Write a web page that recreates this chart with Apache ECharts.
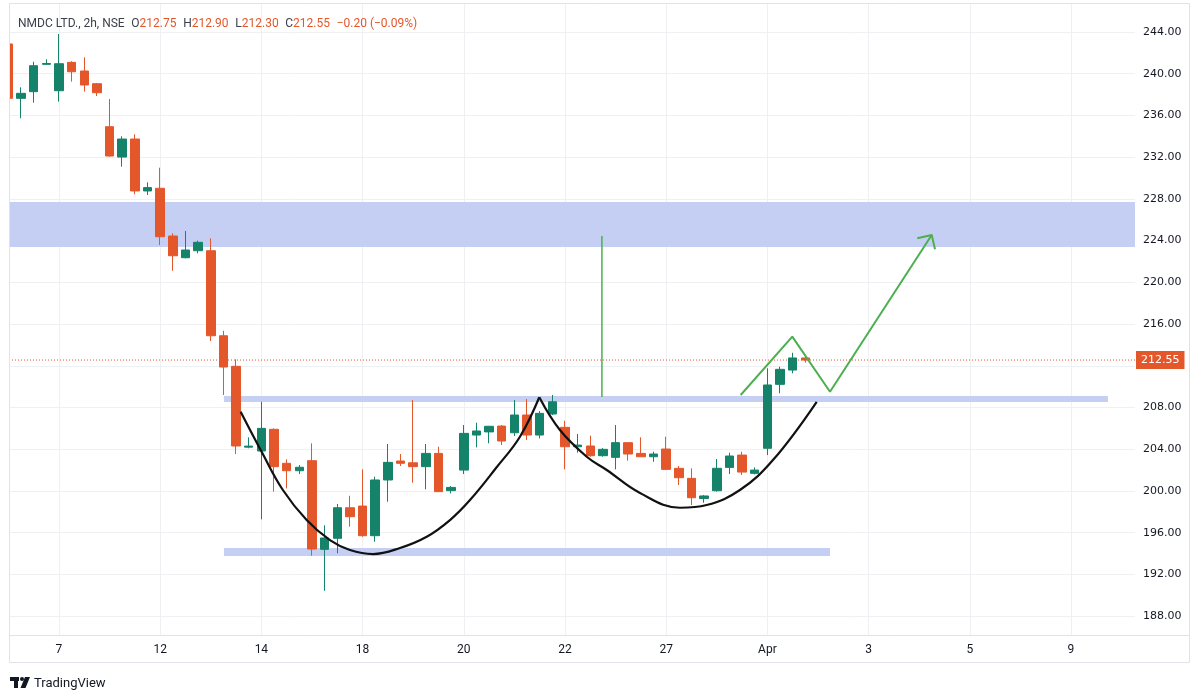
<!DOCTYPE html>
<html><head><meta charset="utf-8">
<script src="https://cdn.jsdelivr.net/npm/echarts@6/dist/echarts.min.js"></script>
<style>html,body{margin:0;padding:0;background:#fff}#c{width:1200px;height:700px}</style>
</head><body><div id="c"></div>
<script>
// ---- data (2h bars, bar index 0 = first bar of Mar 7) ----
const barIndex = [-4,-3,-2,-1,0,1,2,3,4,5,6,7,8,9,10,11,12,13,14,15,16,17,18,19,20,21,22,23,24,25,26,27,28,29,30,31,32,33,34,35,36,37,38,39,40,41,42,43,44,45,46,47,48,49,50,51,52,53,54,55,56,57,58,59];
const opens  = [242.85,237.64,238.28,240.90,238.37,241.09,240.26,239.04,234.92,232.01,233.74,228.76,229.02,224.44,222.36,223.03,223.03,214.88,211.95,204.20,203.83,205.91,202.65,201.94,202.90,194.40,195.46,198.39,198.55,195.71,201.05,202.87,202.70,202.33,203.60,200.03,202.00,205.36,205.66,206.22,205.58,207.28,205.36,207.38,206.10,204.24,204.31,203.38,203.22,204.63,203.60,203.28,204.02,202.17,201.21,199.27,200.02,202.26,203.44,201.69,204.09,210.22,211.59,212.75];
const closes = [237.64,238.12,240.77,240.98,240.96,240.19,238.92,238.18,232.11,233.74,228.76,229.08,224.37,222.55,223.10,223.84,214.88,211.88,204.31,204.30,206.00,202.33,201.94,202.27,194.43,195.49,198.39,197.53,195.71,201.05,202.74,202.65,202.33,203.60,199.93,200.34,205.52,205.75,206.20,204.79,207.28,205.36,207.44,208.55,204.24,204.40,203.38,203.99,204.63,203.54,203.28,203.54,202.07,201.27,199.35,199.52,202.17,203.35,201.81,202.00,210.16,211.66,212.75,212.55];
const lows   = [237.50,235.73,237.22,240.86,237.32,239.24,238.28,237.86,232.04,231.09,228.44,228.37,223.58,221.11,222.30,222.78,214.37,209.20,203.54,204.09,197.28,199.93,200.25,201.62,193.79,190.43,194.02,196.57,195.61,195.13,198.97,202.39,200.79,200.16,199.93,199.77,201.62,204.18,204.57,204.40,205.27,204.88,205.04,207.28,202.07,203.67,203.28,203.28,202.07,202.90,203.28,202.80,202.00,200.57,198.65,198.87,199.93,201.62,201.53,201.59,203.44,209.36,211.28,212.30];
const highs  = [243.00,238.70,241.15,241.38,243.81,241.20,241.57,239.10,237.58,234.00,234.19,229.59,230.99,224.70,224.92,224.00,224.22,215.36,212.62,205.14,208.55,206.00,203.03,202.48,204.56,196.70,198.75,199.54,202.07,201.37,204.50,203.54,208.72,204.50,204.24,200.47,206.32,206.54,206.22,206.32,208.72,208.81,207.66,209.20,206.73,205.46,205.30,204.11,206.32,204.63,205.14,203.76,205.20,202.39,202.17,199.61,203.06,203.67,203.76,202.26,211.76,211.91,213.25,212.90];

const timeTickIndex  = [0,8,16,24,32,40,48,56,64,72,80];
const timeTickLabels = ['7','12','14','18','20','22','27','Apr','3','5','9'];
const priceTicks = [188,192,196,200,204,208,212,216,220,224,228,232,236,240,244];

// drawings (bar index, price)
const zoneX0   = [-3.95, 13.04, 13.04];
const zoneX1   = [85.06, 82.92, 60.95];
const zoneLow  = [223.39, 208.52, 193.76];
const zoneHigh = [227.70, 209.10, 194.53];

const cupLeftX  = [14.36,16.02,17.70,19.58,21.42,23.00,24.82,26.96,29.07,30.91,32.49,34.55,36.44,37.97];
const cupLeftY  = [207.60,203.76,200.09,197.21,195.29,194.34,193.95,194.53,195.61,197.21,199.13,202.20,205.20,208.98];
const cupRightX = [37.97,39.60,41.72,43.30,45.93,49.09,51.20,53.83,56.44,59.90];
const cupRightY = [208.98,205.84,203.28,202.01,199.80,198.39,198.65,200.09,202.96,208.55];

const targetX = [42.92, 42.92];
const targetY = [209.00, 224.44];
const pathX = [53.89, 57.97, 60.95, 68.99];
const pathY = [209.20, 214.79, 209.51, 224.54];
const headX = [67.85, 68.99, 69.25];
const headY = [224.22, 224.54, 223.17];

// ---- styles ----
const UP = '#15836a', DOWN = '#e4572b', ZONE = '#c5cff3', DRAW = '#4caf50';
const X_MIN = -3.95, X_MAX = 85.06, Y_MIN = 186.19, Y_MAX = 246.78;

const candles = barIndex.map((x, k) => [x, opens[k], closes[k], lows[k], highs[k]]);
const zip = (xs, ys) => xs.map((x, k) => [x, ys[k]]);
const zones = zoneX0.map((x, k) => [x, zoneX1[k], zoneLow[k], zoneHigh[k]]);

const n = closes.length;
const lastO = opens[n-1], lastC = closes[n-1], lastH = highs[n-1], lastL = lows[n-1];
const chg = lastC - closes[n-2];
const pct = chg / closes[n-2] * 100;
const fmt = v => (v < 0 ? '\u2212' : '+') + Math.abs(v).toFixed(2);

const chart = echarts.init(document.getElementById('c'), null, {renderer: 'canvas'});
const lineSeries = (data, color, width, smooth, z) => ({
  type: 'line', data, showSymbol: false, symbol: 'none', smooth, z, silent: true,
  lineStyle: {color, width}, clip: true, animation: false
});

chart.setOption({
  animation: false,
  backgroundColor: '#fff',
  grid: {left: 9, right: 65, top: 3, bottom: 65, containLabel: false, outerBoundsMode: 'none'},
  xAxis: {
    type: 'value', min: X_MIN, max: X_MAX,
    axisLine: {show: false}, axisTick: {show: false, customValues: timeTickIndex},
    axisLabel: {
      customValues: timeTickIndex, margin: 9,
      formatter: v => timeTickLabels[timeTickIndex.indexOf(Math.round(v))] || '',
      color: '#131722', fontSize: 12, fontFamily: '"Liberation Sans Narrow", "Roboto", sans-serif'
    },
    splitLine: {show: true, lineStyle: {color: '#eef0f4', width: 1}}
  },
  yAxis: {
    type: 'value', position: 'right', min: Y_MIN, max: Y_MAX,
    axisLine: {show: false}, axisTick: {show: false, customValues: priceTicks},
    axisLabel: {
      customValues: priceTicks, margin: 8, align: 'left', formatter: v => v.toFixed(2),
      color: '#131722', fontSize: 11, fontFamily: '"DejaVu Sans", sans-serif'
    },
    splitLine: {show: true, lineStyle: {color: '#eef0f4', width: 1}}
  },
  series: [
    {
      type: 'custom', z: 1, silent: true, clip: true, data: zones,
      encode: {x: [0, 1], y: [2, 3]},
      renderItem: (params, api) => {
        const p0 = api.coord([api.value(0), api.value(3)]);
        const p1 = api.coord([api.value(1), api.value(2)]);
        return {type: 'rect', shape: {x: p0[0], y: p0[1], width: p1[0]-p0[0], height: p1[1]-p0[1]}, style: {fill: ZONE}};
      }
    },
    {
      type: 'candlestick', z: 3, data: candles, barWidth: 9, clip: true,
      encode: {x: 0, y: [1, 2, 3, 4]},
      itemStyle: {color: UP, color0: DOWN, borderColor: UP, borderColor0: DOWN, borderWidth: 1}
    },
    {
      type: 'line', z: 2, silent: true, symbol: 'none', showSymbol: false,
      data: [[X_MIN, lastC], [X_MAX, lastC]],
      lineStyle: {color: DOWN, width: 1, type: [1, 2]},
      endLabel: {
        show: true, distance: 1, formatter: () => lastC.toFixed(2),
        color: '#fff', backgroundColor: DOWN, padding: [4, 5, 3, 5],
        fontSize: 11, fontFamily: '"DejaVu Sans", sans-serif'
      }
    },
    lineSeries(zip(cupLeftX, cupLeftY), '#111', 2.2, 0.4, 5),
    lineSeries(zip(cupRightX, cupRightY), '#111', 2.2, 0.4, 5),
    lineSeries(zip(targetX, targetY), DRAW, 1.5, false, 5),
    lineSeries(zip(pathX, pathY), DRAW, 2, false, 5),
    lineSeries(zip(headX, headY), DRAW, 2, false, 5)
  ],
  graphic: [
    {type: 'rect', silent: true, z: 100, shape: {x: 0, y: 0, width: 9, height: 700}, style: {fill: '#fff'}},
    {type: 'rect', silent: true, z: 101, shape: {x: 9.5, y: 3.5, width: 1180, height: 659}, style: {fill: 'none', stroke: '#e0e3eb', lineWidth: 1}},
    {type: 'line', silent: true, z: 101, shape: {x1: 9, y1: 635.5, x2: 1190, y2: 635.5}, style: {stroke: '#e0e3eb', lineWidth: 1}},
    {
      type: 'text', silent: true, z: 102, left: 18, top: 18,
      style: {
        text: '{n|NMDC LTD., 2h, NSE}  {n|O}{v|' + lastO.toFixed(2) + '}  {n|H}{v|' + lastH.toFixed(2) + '}  {n|L}{v|' + lastL.toFixed(2) + '}  {n|C}{v|' + lastC.toFixed(2) + '}  {v|' + fmt(chg) + ' (' + fmt(pct) + '%)}',
        rich: {
          n: {fill: '#3b3f4a', fontSize: 12, fontFamily: 'Roboto, sans-serif'},
          v: {fill: '#e4572b', fontSize: 12, fontFamily: 'Roboto, sans-serif'}
        }
      }
    },
    {
      type: 'group', silent: true, left: 10, top: 677,
      children: [
        {type: 'rect', shape: {x: 0, y: 0, width: 9, height: 4}, style: {fill: '#131722'}},
        {type: 'rect', shape: {x: 4, y: 0, width: 4, height: 11}, style: {fill: '#131722'}},
        {type: 'circle', shape: {cx: 12, cy: 2, r: 2}, style: {fill: '#131722'}},
        {type: 'polygon', shape: {points: [[15, 0], [20, 0], [15.5, 11], [10.5, 11]]}, style: {fill: '#131722'}},
        {type: 'text', style: {x: 24, y: 0, text: 'TradingView', fill: '#131722', fontSize: 13, fontFamily: 'Roboto, sans-serif'}}
      ]
    }
  ]
});
</script></body></html>
